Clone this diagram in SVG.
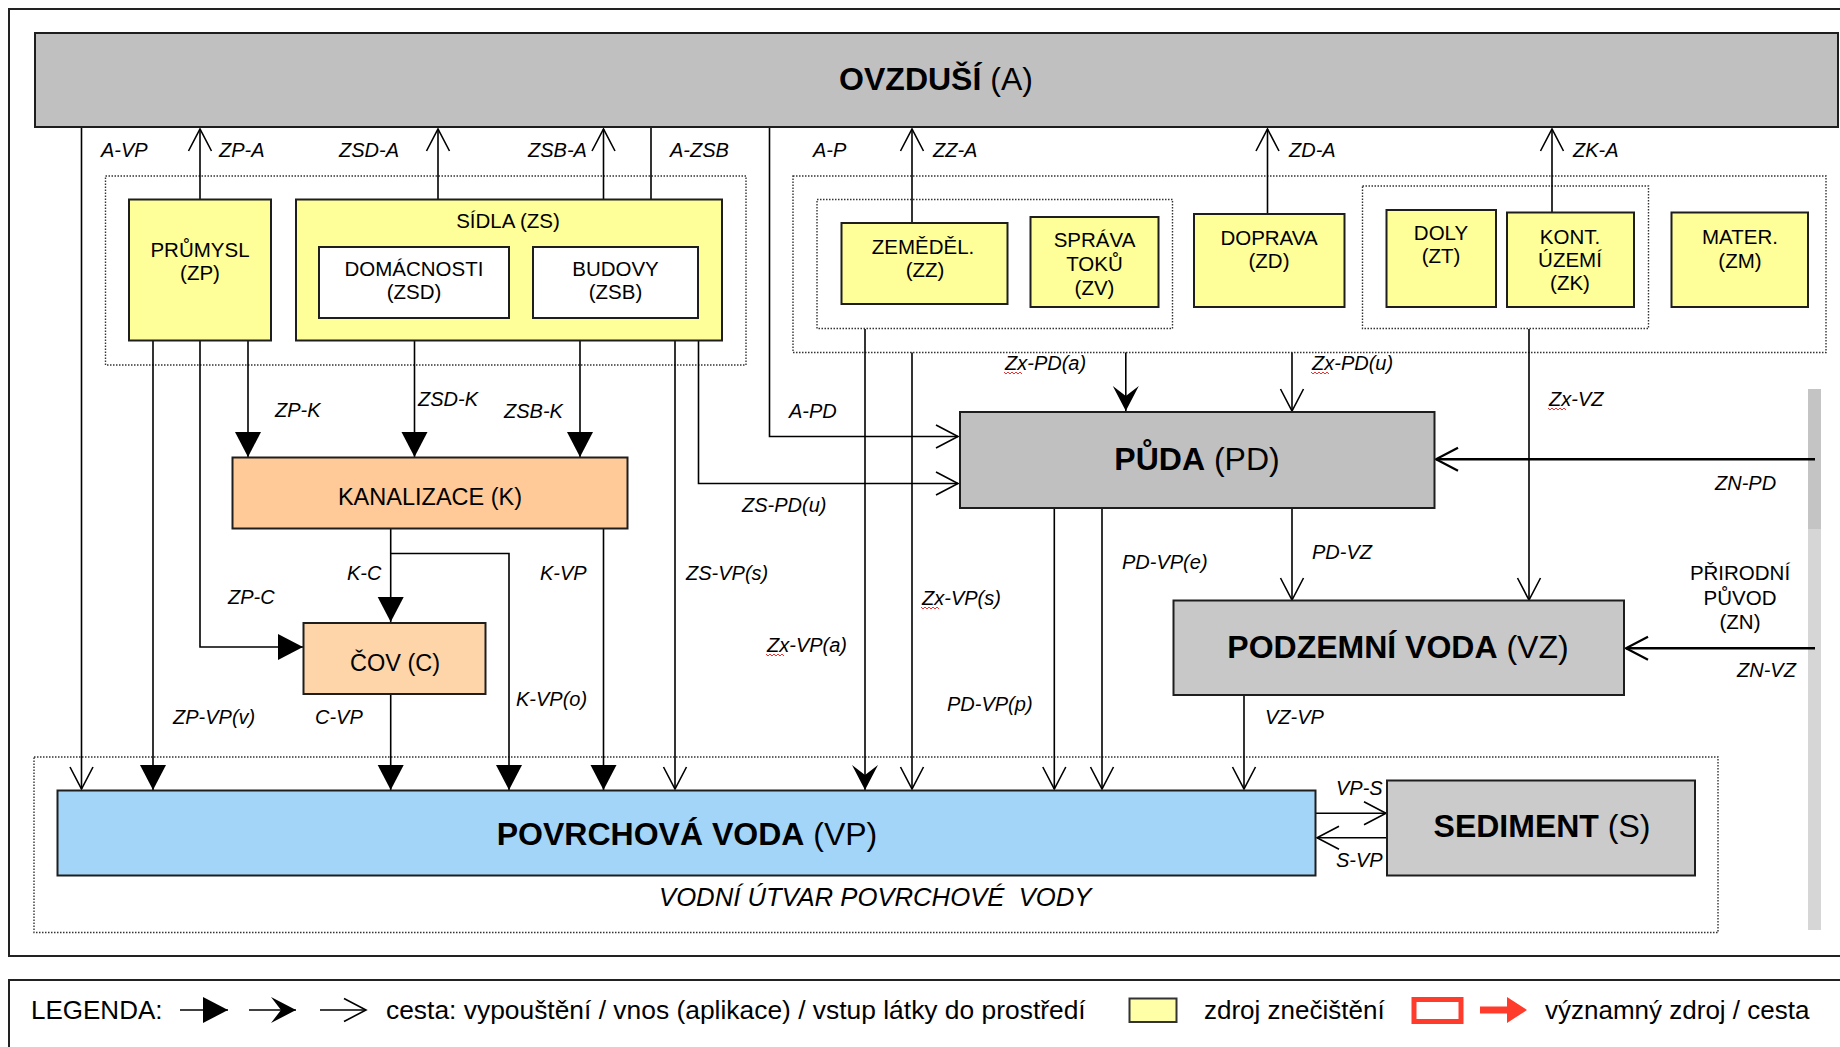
<svg xmlns="http://www.w3.org/2000/svg" width="1840" height="1047" viewBox="0 0 1840 1047">
<style>
text{font-family:"Liberation Sans",Arial,sans-serif;fill:#000}
.big{font-size:32px;text-anchor:middle}
.b{font-weight:bold}
.mid{font-size:23.5px;text-anchor:middle}
.nl{font-size:20.5px;text-anchor:middle}
.lb{font-size:20px;font-style:italic}
.lg{font-size:26px}
.box{stroke:#1e1e1e;stroke-width:2}
.gray{fill:#c0c0c0}
.yel{fill:#ffff99}
.dot{fill:none;stroke:#333;stroke-width:1.4;stroke-dasharray:1.5 1.5}
.c{fill:none;stroke:#000;stroke-width:1.6}
.ct{fill:none;stroke:#000;stroke-width:2.6}
.sq{fill:none;stroke:#e33;stroke-width:1}
.f{marker-end:url(#mf)}
.m{marker-end:url(#mb)}
.o{marker-end:url(#mo)}
</style>
<defs>
<marker id="mf" markerUnits="userSpaceOnUse" markerWidth="26" markerHeight="26" refX="25" refY="13" orient="auto" overflow="visible"><path d="M0,0 L25,13 L0,26 Z" fill="#000"/></marker>
<marker id="mb" markerUnits="userSpaceOnUse" markerWidth="26" markerHeight="26" refX="25" refY="13" orient="auto" overflow="visible"><path d="M0,0 L25,13 L0,26 L10,13 Z" fill="#000"/></marker>
<marker id="mo" markerUnits="userSpaceOnUse" markerWidth="24" markerHeight="24" refX="22" refY="12" orient="auto" overflow="visible"><path d="M0,0.5 L22,12 L0,23.5" fill="none" stroke="#000" stroke-width="1.6"/></marker>
<marker id="mo2" markerUnits="userSpaceOnUse" markerWidth="24" markerHeight="24" refX="22" refY="12" orient="auto" overflow="visible"><path d="M0,0.5 L22,12 L0,23.5" fill="none" stroke="#000" stroke-width="2.2"/></marker>
</defs>
<rect width="1840" height="1047" fill="#fff"/>
<g id="frame">
<rect x="9" y="9" width="1845" height="947" fill="none" stroke="#222" stroke-width="2"/>
<rect x="1808" y="389" width="13" height="140" fill="#c4c4c4"/>
<rect x="1808" y="529" width="13" height="401" fill="#d6d6d6"/>
</g>
<g id="groups">
<rect class="dot" x="105.5" y="176" width="640.5" height="189"/>
<rect class="dot" x="793" y="176" width="1033" height="176.5"/>
<rect class="dot" x="817" y="199.5" width="355.5" height="129"/>
<rect class="dot" x="1362.5" y="186" width="286" height="142.5"/>
<rect class="dot" x="34" y="757" width="1684" height="175.5"/>
</g>
<g id="connectors">
<path class="c o" d="M81.5,128 V789"/>
<path class="c o" d="M200,199 V129"/>
<path class="c o" d="M438,247 V129"/>
<path class="c o" d="M603.5,247 V129"/>
<path class="c o" d="M651,128 V246"/>
<path class="c o" d="M769.5,128 V436.5 H958"/>
<path class="c o" d="M912,223 V129"/>
<path class="c o" d="M1267.5,214 V129"/>
<path class="c o" d="M1552,212 V129"/>
<path class="c f" d="M153,341 V790"/>
<path class="c f" d="M200,341 V647 H303"/>
<path class="c f" d="M248,341 V457"/>
<path class="c f" d="M414.5,318 V457"/>
<path class="c f" d="M580,318 V457"/>
<path class="c o" d="M675,341 V789"/>
<path class="c o" d="M698.5,341 V483.5 H958"/>
<path class="c f" d="M390.7,529 V622"/>
<path class="c f" d="M390.7,553.5 H509 V790"/>
<path class="c f" d="M603.5,529 V790"/>
<path class="c f" d="M390.7,694 V790"/>
<path class="c m" d="M865,329 V790"/>
<path class="c o" d="M912,352.5 V789"/>
<path class="c m" d="M1125.8,352.5 V411"/>
<path class="c o" d="M1292,352.5 V411"/>
<path class="c o" d="M1529,329 V600"/>
<path class="ct" marker-end="url(#mo2)" d="M1815,459.3 H1436"/>
<path class="ct" marker-end="url(#mo2)" d="M1815,648.3 H1626"/>
<path class="c o" d="M1054.3,508 V789"/>
<path class="c o" d="M1102,508 V789"/>
<path class="c o" d="M1292,508 V600"/>
<path class="c o" d="M1244,695 V789"/>
<path class="c o" d="M1316,813.3 H1386"/>
<path class="c o" d="M1387,837.7 H1317"/>
</g>
<g id="A">
<rect class="box gray" x="35" y="33" width="1803" height="94"/>
<text class="big" x="936" y="90"><tspan class="b">OVZDUŠÍ</tspan> (A)</text>
</g>
<g id="ZP">
<rect class="box yel" x="129" y="199.5" width="142" height="141"/>
<text class="nl" x="200" y="257">PRŮMYSL</text>
<text class="nl" x="200" y="280">(ZP)</text>
</g>
<g id="ZS">
<rect class="box yel" x="296" y="199.5" width="426" height="141"/>
<text class="nl" x="508" y="228">SÍDLA (ZS)</text>
</g>
<g id="ZSD">
<rect class="box" fill="#fff" x="319" y="247" width="190" height="71"/>
<text class="nl" x="414" y="276">DOMÁCNOSTI</text>
<text class="nl" x="414" y="299">(ZSD)</text>
</g>
<g id="ZSB">
<rect class="box" fill="#fff" x="533" y="247" width="165" height="71"/>
<text class="nl" x="615.5" y="276">BUDOVY</text>
<text class="nl" x="615.5" y="299">(ZSB)</text>
</g>
<g id="ZZ">
<rect class="box yel" x="841.5" y="223" width="166" height="81"/>
<text class="nl" x="923" y="254">ZEMĚDĚL.</text>
<text class="nl" x="925" y="277">(ZZ)</text>
</g>
<g id="ZV">
<rect class="box yel" x="1030.5" y="217" width="128" height="90"/>
<text class="nl" x="1094.5" y="247">SPRÁVA</text>
<text class="nl" x="1094.5" y="271">TOKŮ</text>
<text class="nl" x="1094.5" y="295">(ZV)</text>
</g>
<g id="ZD">
<rect class="box yel" x="1194" y="214" width="150.5" height="93"/>
<text class="nl" x="1269" y="245">DOPRAVA</text>
<text class="nl" x="1269" y="268">(ZD)</text>
</g>
<g id="ZT">
<rect class="box yel" x="1386.5" y="210" width="109.5" height="97"/>
<text class="nl" x="1441" y="240">DOLY</text>
<text class="nl" x="1441" y="263">(ZT)</text>
</g>
<g id="ZK">
<rect class="box yel" x="1507" y="212.5" width="127" height="94.5"/>
<text class="nl" x="1570" y="244">KONT.</text>
<text class="nl" x="1570" y="267">ÚZEMÍ</text>
<text class="nl" x="1570" y="290">(ZK)</text>
</g>
<g id="ZM">
<rect class="box yel" x="1671.5" y="212.5" width="136.5" height="94.5"/>
<text class="nl" x="1740" y="244">MATER.</text>
<text class="nl" x="1740" y="268">(ZM)</text>
</g>
<g id="K">
<rect class="box" fill="#ffca97" x="232.5" y="457.5" width="395" height="71"/>
<text class="mid" x="430" y="505">KANALIZACE (K)</text>
</g>
<g id="C">
<rect class="box" fill="#fed4a9" x="303.5" y="623" width="182" height="71"/>
<text class="mid" x="395" y="671">ČOV (C)</text>
</g>
<g id="PD">
<rect class="box gray" x="960" y="412" width="474.5" height="96"/>
<text class="big" x="1197" y="470"><tspan class="b">PŮDA</tspan> (PD)</text>
</g>
<g id="VZ">
<rect class="box" fill="#c8c8c8" x="1173.5" y="600.5" width="450.5" height="94.5"/>
<text class="big" x="1398" y="658"><tspan class="b">PODZEMNÍ VODA</tspan> (VZ)</text>
</g>
<g id="ZN">
<text class="nl" x="1740" y="580">PŘIRODNÍ</text>
<text class="nl" x="1740" y="605">PŮVOD</text>
<text class="nl" x="1740" y="629">(ZN)</text>
</g>
<g id="VP">
<rect class="box" fill="#a3d5f8" x="57.5" y="790.5" width="1258" height="85"/>
<text class="big" x="687" y="845"><tspan class="b">POVRCHOVÁ VODA</tspan> (VP)</text>
</g>
<g id="S">
<rect class="box" fill="#cbcbcb" x="1387" y="780.5" width="308" height="95"/>
<text class="big" x="1542" y="837"><tspan class="b">SEDIMENT</tspan> (S)</text>
</g>
<g id="labels">
<text class="lb" x="101" y="157">A-VP</text>
<text class="lb" x="219" y="157">ZP-A</text>
<text class="lb" x="339" y="157">ZSD-A</text>
<text class="lb" x="528" y="157">ZSB-A</text>
<text class="lb" x="670" y="157">A-ZSB</text>
<text class="lb" x="813" y="157">A-P</text>
<text class="lb" x="933" y="157">ZZ-A</text>
<text class="lb" x="1289" y="157">ZD-A</text>
<text class="lb" x="1573" y="157">ZK-A</text>
<text class="lb" x="275" y="417">ZP-K</text>
<text class="lb" x="418" y="406">ZSD-K</text>
<text class="lb" x="504" y="418">ZSB-K</text>
<text class="lb" x="347" y="580">K-C</text>
<text class="lb" x="540" y="580">K-VP</text>
<text class="lb" x="686" y="580">ZS-VP(s)</text>
<text class="lb" x="228" y="604">ZP-C</text>
<text class="lb" x="173" y="724">ZP-VP(v)</text>
<text class="lb" x="315" y="724">C-VP</text>
<text class="lb" x="516" y="706">K-VP(o)</text>
<text class="lb" x="789" y="418">A-PD</text>
<text class="lb" x="742" y="512">ZS-PD(u)</text>
<text class="lb" x="1005" y="370">Zx-PD(a)</text>
<text class="lb" x="1312" y="370">Zx-PD(u)</text>
<text class="lb" x="1549" y="406">Zx-VZ</text>
<text class="lb" x="1715" y="490">ZN-PD</text>
<text class="lb" x="1312" y="559">PD-VZ</text>
<text class="lb" x="1122" y="569">PD-VP(e)</text>
<text class="lb" x="922" y="605">Zx-VP(s)</text>
<text class="lb" x="767" y="652">Zx-VP(a)</text>
<text class="lb" x="947" y="711">PD-VP(p)</text>
<text class="lb" x="1737" y="677">ZN-VZ</text>
<text class="lb" x="1265" y="724">VZ-VP</text>
<text class="lb" x="1336" y="795">VP-S</text>
<text class="lb" x="1336" y="867">S-VP</text>
<text class="lb" x="659" y="906" style="font-size:25.7px" xml:space="preserve">VODNÍ ÚTVAR POVRCHOVÉ  VODY</text>
<path class="sq" d="M1004,372 l2,2 l2,-2 l2,2 l2,-2 l2,2 l2,-2 l2,2 l2,-2 l2,2"/>
<path class="sq" d="M1311,372 l2,2 l2,-2 l2,2 l2,-2 l2,2 l2,-2 l2,2 l2,-2 l2,2"/>
<path class="sq" d="M1548,408 l2,2 l2,-2 l2,2 l2,-2 l2,2 l2,-2 l2,2 l2,-2 l2,2"/>
<path class="sq" d="M921,607 l2,2 l2,-2 l2,2 l2,-2 l2,2 l2,-2 l2,2 l2,-2 l2,2"/>
<path class="sq" d="M766,654 l2,2 l2,-2 l2,2 l2,-2 l2,2 l2,-2 l2,2 l2,-2 l2,2"/>
</g>
<g id="legend">
<rect x="9" y="980" width="1845" height="90" fill="none" stroke="#222" stroke-width="2"/>
<text class="lg" x="31" y="1019">LEGENDA:</text>
<path class="c f" d="M180,1010 H228"/>
<path class="c m" d="M249,1010 H296"/>
<path class="c o" d="M320,1010 H366"/>
<text class="lg" x="386" y="1019" style="font-size:26.4px">cesta: vypouštění / vnos (aplikace) / vstup látky do prostředí</text>
<rect x="1129.5" y="998.5" width="47" height="23.5" fill="#ffffa8" stroke="#333" stroke-width="2"/>
<text class="lg" x="1204" y="1019">zdroj znečištění</text>
<rect x="1414" y="999.5" width="47" height="22" fill="#fff" stroke="#ff3b2c" stroke-width="5"/>
<path d="M1480,1006.5 H1507 V997 L1527,1010 L1507,1023 V1013.5 H1480 Z" fill="#ff3b2c"/>
<text class="lg" x="1545" y="1019">významný zdroj / cesta</text>
</g>
</svg>
